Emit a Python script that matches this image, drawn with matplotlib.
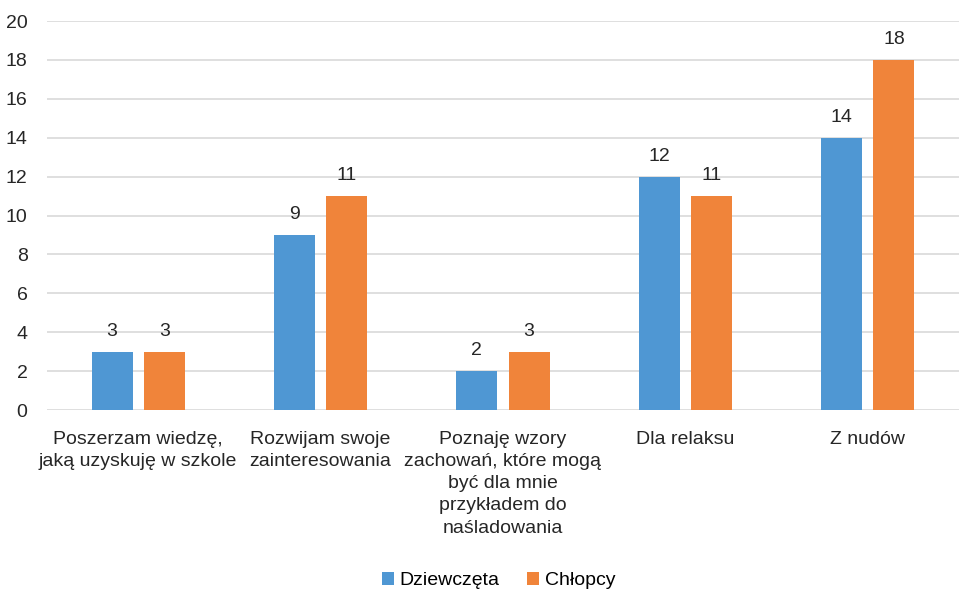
import matplotlib
matplotlib.use('Agg')
import matplotlib.pyplot as plt
import numpy as np
from matplotlib import font_manager

names = {f.name for f in font_manager.fontManager.ttflist}
fam = 'Liberation Sans Narrow' if 'Liberation Sans Narrow' in names else 'Liberation Sans'
plt.rcParams['font.family'] = [fam, 'DejaVu Sans']

categories = [
    'Poszerzam wiedzę,\njaką uzyskuję w szkole',
    'Rozwijam swoje\nzainteresowania',
    'Poznaję wzory\nzachowań, które mogą\nbyć dla mnie\nprzykładem do\nnaśladowania',
    'Dla relaksu',
    'Z nudów',
]
girls = [3, 9, 2, 12, 14]
boys = [3, 11, 3, 11, 18]
series_names = ['Dziewczęta', 'Chłopcy']
colors = ['#4F97D3', '#F0843A']

fig = plt.figure(figsize=(9.59, 5.92), dpi=100)
ax = fig.add_axes([0.049, 0.3074, 0.951, 0.6571])

x = np.arange(len(categories))
w = 0.225
off = 0.143
b1 = ax.bar(x - off, girls, w, color=colors[0], label=series_names[0], zorder=3)
b2 = ax.bar(x + off, boys, w, color=colors[1], label=series_names[1], zorder=3)
for bars in (b1, b2):
    for r in bars:
        ax.text(r.get_x() + r.get_width() / 2, r.get_height() + 0.6, str(int(r.get_height())),
                ha='center', va='bottom', fontsize=14, color='#262626')

ax.set_xlim(-0.5, len(categories) - 0.5)
ax.set_ylim(0, 20)
ax.set_yticks(range(0, 21, 2))
ax.yaxis.grid(True, color='#D9D9D9', linewidth=1.2, zorder=0)
ax.set_axisbelow(True)
for s in ax.spines.values():
    s.set_visible(False)
ax.tick_params(axis='both', length=0, labelsize=14, colors='#262626')
ax.tick_params(axis='y', pad=14)
ax.set_xticks(x)
ax.set_xticklabels(categories, fontsize=14, linespacing=1.4, va='top')
ax.tick_params(axis='x', pad=15)

fig.legend(loc='lower center', bbox_to_anchor=(0.52, -0.025), ncol=2, frameon=False,
           fontsize=14, handlelength=0.6, handleheight=0.6, handletextpad=0.3, columnspacing=1.4)

fig.savefig('out.png', dpi=100)
